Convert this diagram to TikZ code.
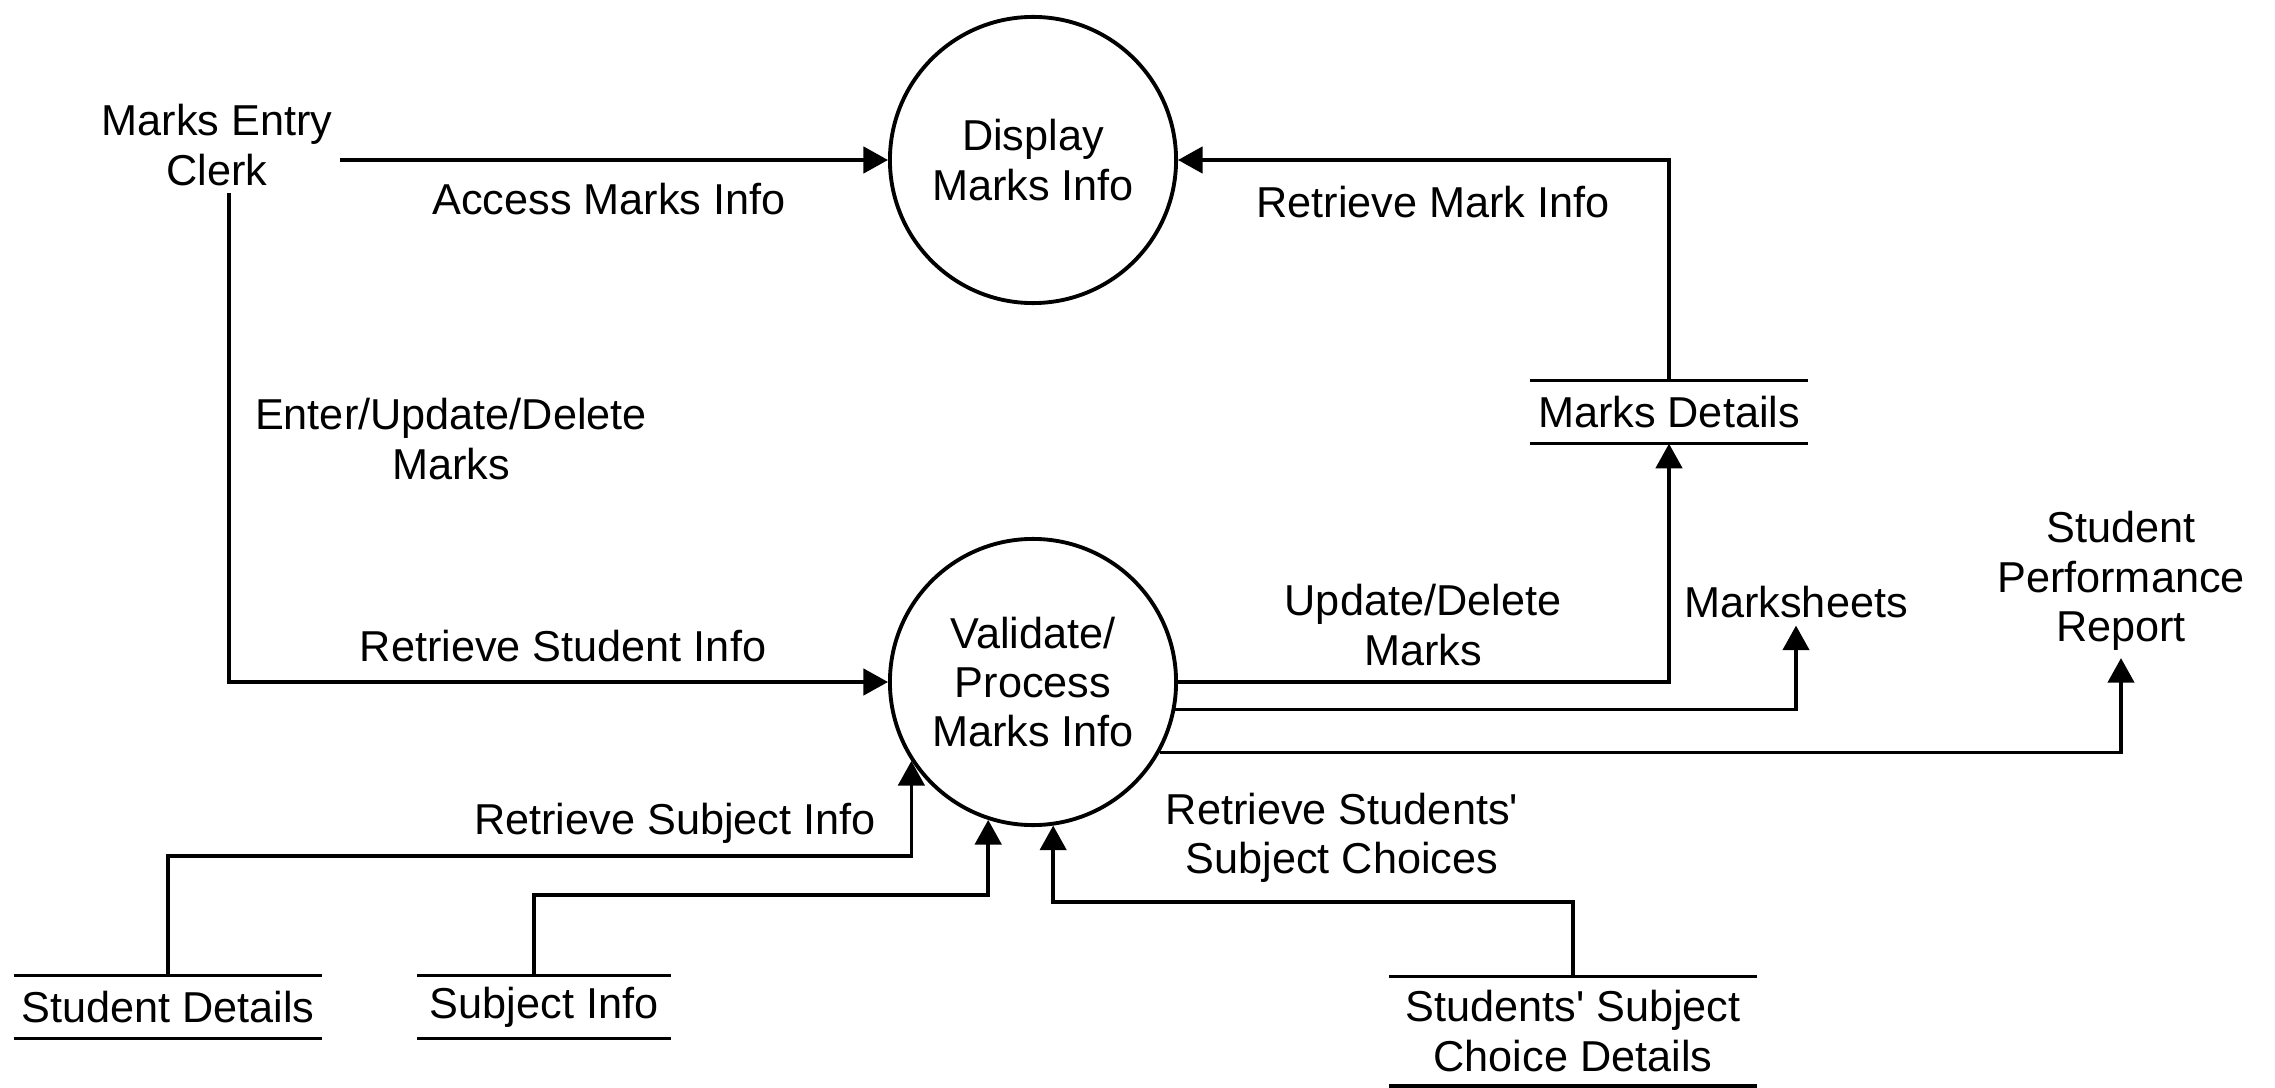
\documentclass[tikz,border=0pt]{standalone}
\usepackage{fontspec}
\setmainfont{Liberation Sans}[Ligatures=TeXOff]
\usetikzlibrary{arrows.meta,calc}
\begin{document}
\begin{tikzpicture}[x=0.01cm,y=-0.01cm,
  every node/.style={font=\fontsize{12.3}{14}\selectfont, align=center, inner sep=2pt},
  proc/.style={circle, draw, line width=1.1pt, minimum size=2.86cm, inner sep=0pt},
  store/.style={minimum height=0.62cm, inner ysep=0pt},
  flow/.style={line width=1pt},
  arr/.style={flow, -{Triangle[length=7pt,width=7.5pt]}},
  lbl/.style={}]
\useasboundingbox (0,0) rectangle (2275,1088);

% processes
\node[proc] (disp) at (1033,160) {Display\\Marks Info};
\node[proc] (val) at (1033,682) {Validate/\\Process\\Marks Info};

% external entities
\node (clerk) at (217,145) {Marks Entry\\Clerk};
\node (ms) at (1796,602) {Marksheets};
\node (rep) at (2121,581) {Student\\Performance\\Report};

% data stores
\node[store, minimum width=2.76cm] (md) at (1669,412) {Marks Details};
\node[store, minimum width=3.02cm] (sd) at (168,1007) {Student Details};
\node[store, minimum width=2.52cm] (si) at (544,1007) {Subject Info};
\node[store, minimum width=3.66cm, minimum height=1.08cm] (sc) at (1573,1031) {Students' Subject\\Choice Details};
\foreach \n in {md,sd,si,sc}
  \draw[flow] (\n.north west) -- (\n.north east) (\n.south west) -- (\n.south east);

% helper levels
\coordinate (h1) at (0,856);
\coordinate (h2) at (0,895);
\coordinate (h3) at (0,902);

% flows
\draw[arr] (clerk.east |- disp.west) -- (disp.west);
\draw[arr] ($(clerk.south)+(12,0)$) |- (val.west);
\draw[arr] (md.north) |- (disp.east);
\draw[arr] (val.east) -| (md.south);
\draw[arr] (val.-11.7) -| (ms.south);
\draw[arr] (val.-29.3) -| (rep.south);
\draw[arr] (sd.north) |- (val.213.7 |- h1) -- (val.213.7);
\draw[arr] ($(si.north)+(-10,0)$) |- (val.252.9 |- h2) -- (val.252.9);
\draw[arr] (sc.north) |- (val.278.85 |- h3) -- (val.278.85);

% flow labels
\node[lbl] (l1) at (609,199) {Access Marks Info};
\node[lbl] (l2) at (1433,202) {Retrieve Mark Info};
\node[lbl] (l3) at (451,439) {Enter/Update/Delete\\Marks};
\node[lbl] (l4) at (563,646) {Retrieve Student Info};
\node[lbl] (l5) at (1423,625) {Update/Delete\\Marks};
\node[lbl] (l6) at (675,823) {Retrieve Subject Info};
\node[lbl] (l7) at (1342,838) {Retrieve Students'\\Subject Choices};
\end{tikzpicture}
\end{document}
